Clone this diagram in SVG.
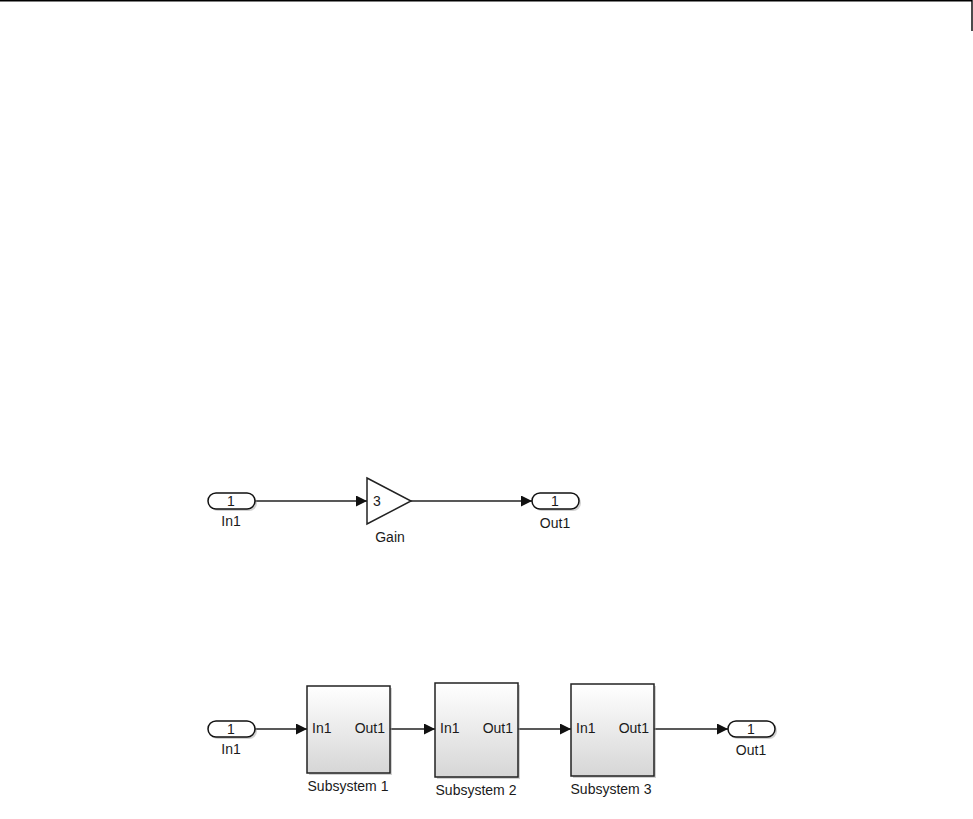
<svg xmlns="http://www.w3.org/2000/svg" width="973" height="819" viewBox="0 0 973 819">
<style>
text{font-family:"Liberation Sans",Arial,sans-serif;font-size:14px;fill:#1a1a1a}
.port{fill:#fff;stroke:#111;stroke-width:1.5}
.shadow{fill:#999;opacity:0.45}
.blk{fill:url(#g);stroke:#222;stroke-width:1.5}
.wire{stroke:#222;stroke-width:1.4;fill:none;marker-end:url(#ah)}
</style>
<defs>
<linearGradient id="g" x1="0" y1="0" x2="0" y2="1">
<stop offset="0" stop-color="#ffffff"/>
<stop offset="1" stop-color="#d6d6d6"/>
</linearGradient>
<marker id="ah" viewBox="0 0 10 10" refX="10" refY="5" markerWidth="11" markerHeight="11" markerUnits="userSpaceOnUse" orient="auto">
<path d="M0,0 L10,5 L0,10 z" fill="#111"/>
</marker>
</defs>
<rect width="973" height="819" fill="#fff"/>
<path d="M0,0.7 H972 V31" fill="none" stroke="#000" stroke-width="1.4"/>

<g id="connectors">
<line class="wire" x1="255" y1="501" x2="367" y2="501"/>
<line class="wire" x1="411" y1="501" x2="532" y2="501"/>
<line class="wire" x1="255" y1="729" x2="307" y2="729"/>
<line class="wire" x1="390" y1="729" x2="435" y2="729"/>
<line class="wire" x1="518" y1="729" x2="571" y2="729"/>
<line class="wire" x1="654" y1="729" x2="728" y2="729"/>
</g>

<g id="in1_top">
<rect class="shadow" x="210" y="495" width="47" height="16" rx="8"/>
<rect class="port" x="208" y="493" width="47" height="16" rx="8"/>
<text x="231" y="506" text-anchor="middle">1</text>
<text x="231" y="526" text-anchor="middle">In1</text>
</g>
<g id="gain">
<polygon points="367,478 411,501 367,524" fill="#fff" stroke="#222" stroke-width="1.5"/>
<text x="373" y="506">3</text>
<text x="390" y="542" text-anchor="middle">Gain</text>
</g>
<g id="out1_top">
<rect class="shadow" x="534" y="495" width="47" height="16" rx="8"/>
<rect class="port" x="532" y="493" width="47" height="16" rx="8"/>
<text x="555" y="506" text-anchor="middle">1</text>
<text x="555" y="528" text-anchor="middle">Out1</text>
</g>

<g id="in1_bottom">
<rect class="shadow" x="210" y="723" width="47" height="16" rx="8"/>
<rect class="port" x="208" y="721" width="47" height="16" rx="8"/>
<text x="231" y="734" text-anchor="middle">1</text>
<text x="231" y="754" text-anchor="middle">In1</text>
</g>
<g id="subsystem1">
<rect class="shadow" x="309" y="688" width="83" height="87"/>
<rect class="blk" x="307" y="686" width="83" height="87"/>
<text x="312" y="733">In1</text>
<text x="385" y="733" text-anchor="end">Out1</text>
<text x="348" y="791" text-anchor="middle">Subsystem 1</text>
</g>
<g id="subsystem2">
<rect class="shadow" x="437" y="685" width="83" height="94"/>
<rect class="blk" x="435" y="683" width="83" height="94"/>
<text x="440" y="733">In1</text>
<text x="513" y="733" text-anchor="end">Out1</text>
<text x="476" y="795" text-anchor="middle">Subsystem 2</text>
</g>
<g id="subsystem3">
<rect class="shadow" x="573" y="686" width="83" height="92"/>
<rect class="blk" x="571" y="684" width="83" height="92"/>
<text x="576" y="733">In1</text>
<text x="649" y="733" text-anchor="end">Out1</text>
<text x="611" y="794" text-anchor="middle">Subsystem 3</text>
</g>
<g id="out1_bottom">
<rect class="shadow" x="730" y="723" width="47" height="16" rx="8"/>
<rect class="port" x="728" y="721" width="47" height="16" rx="8"/>
<text x="751" y="734" text-anchor="middle">1</text>
<text x="751" y="755" text-anchor="middle">Out1</text>
</g>
</svg>
